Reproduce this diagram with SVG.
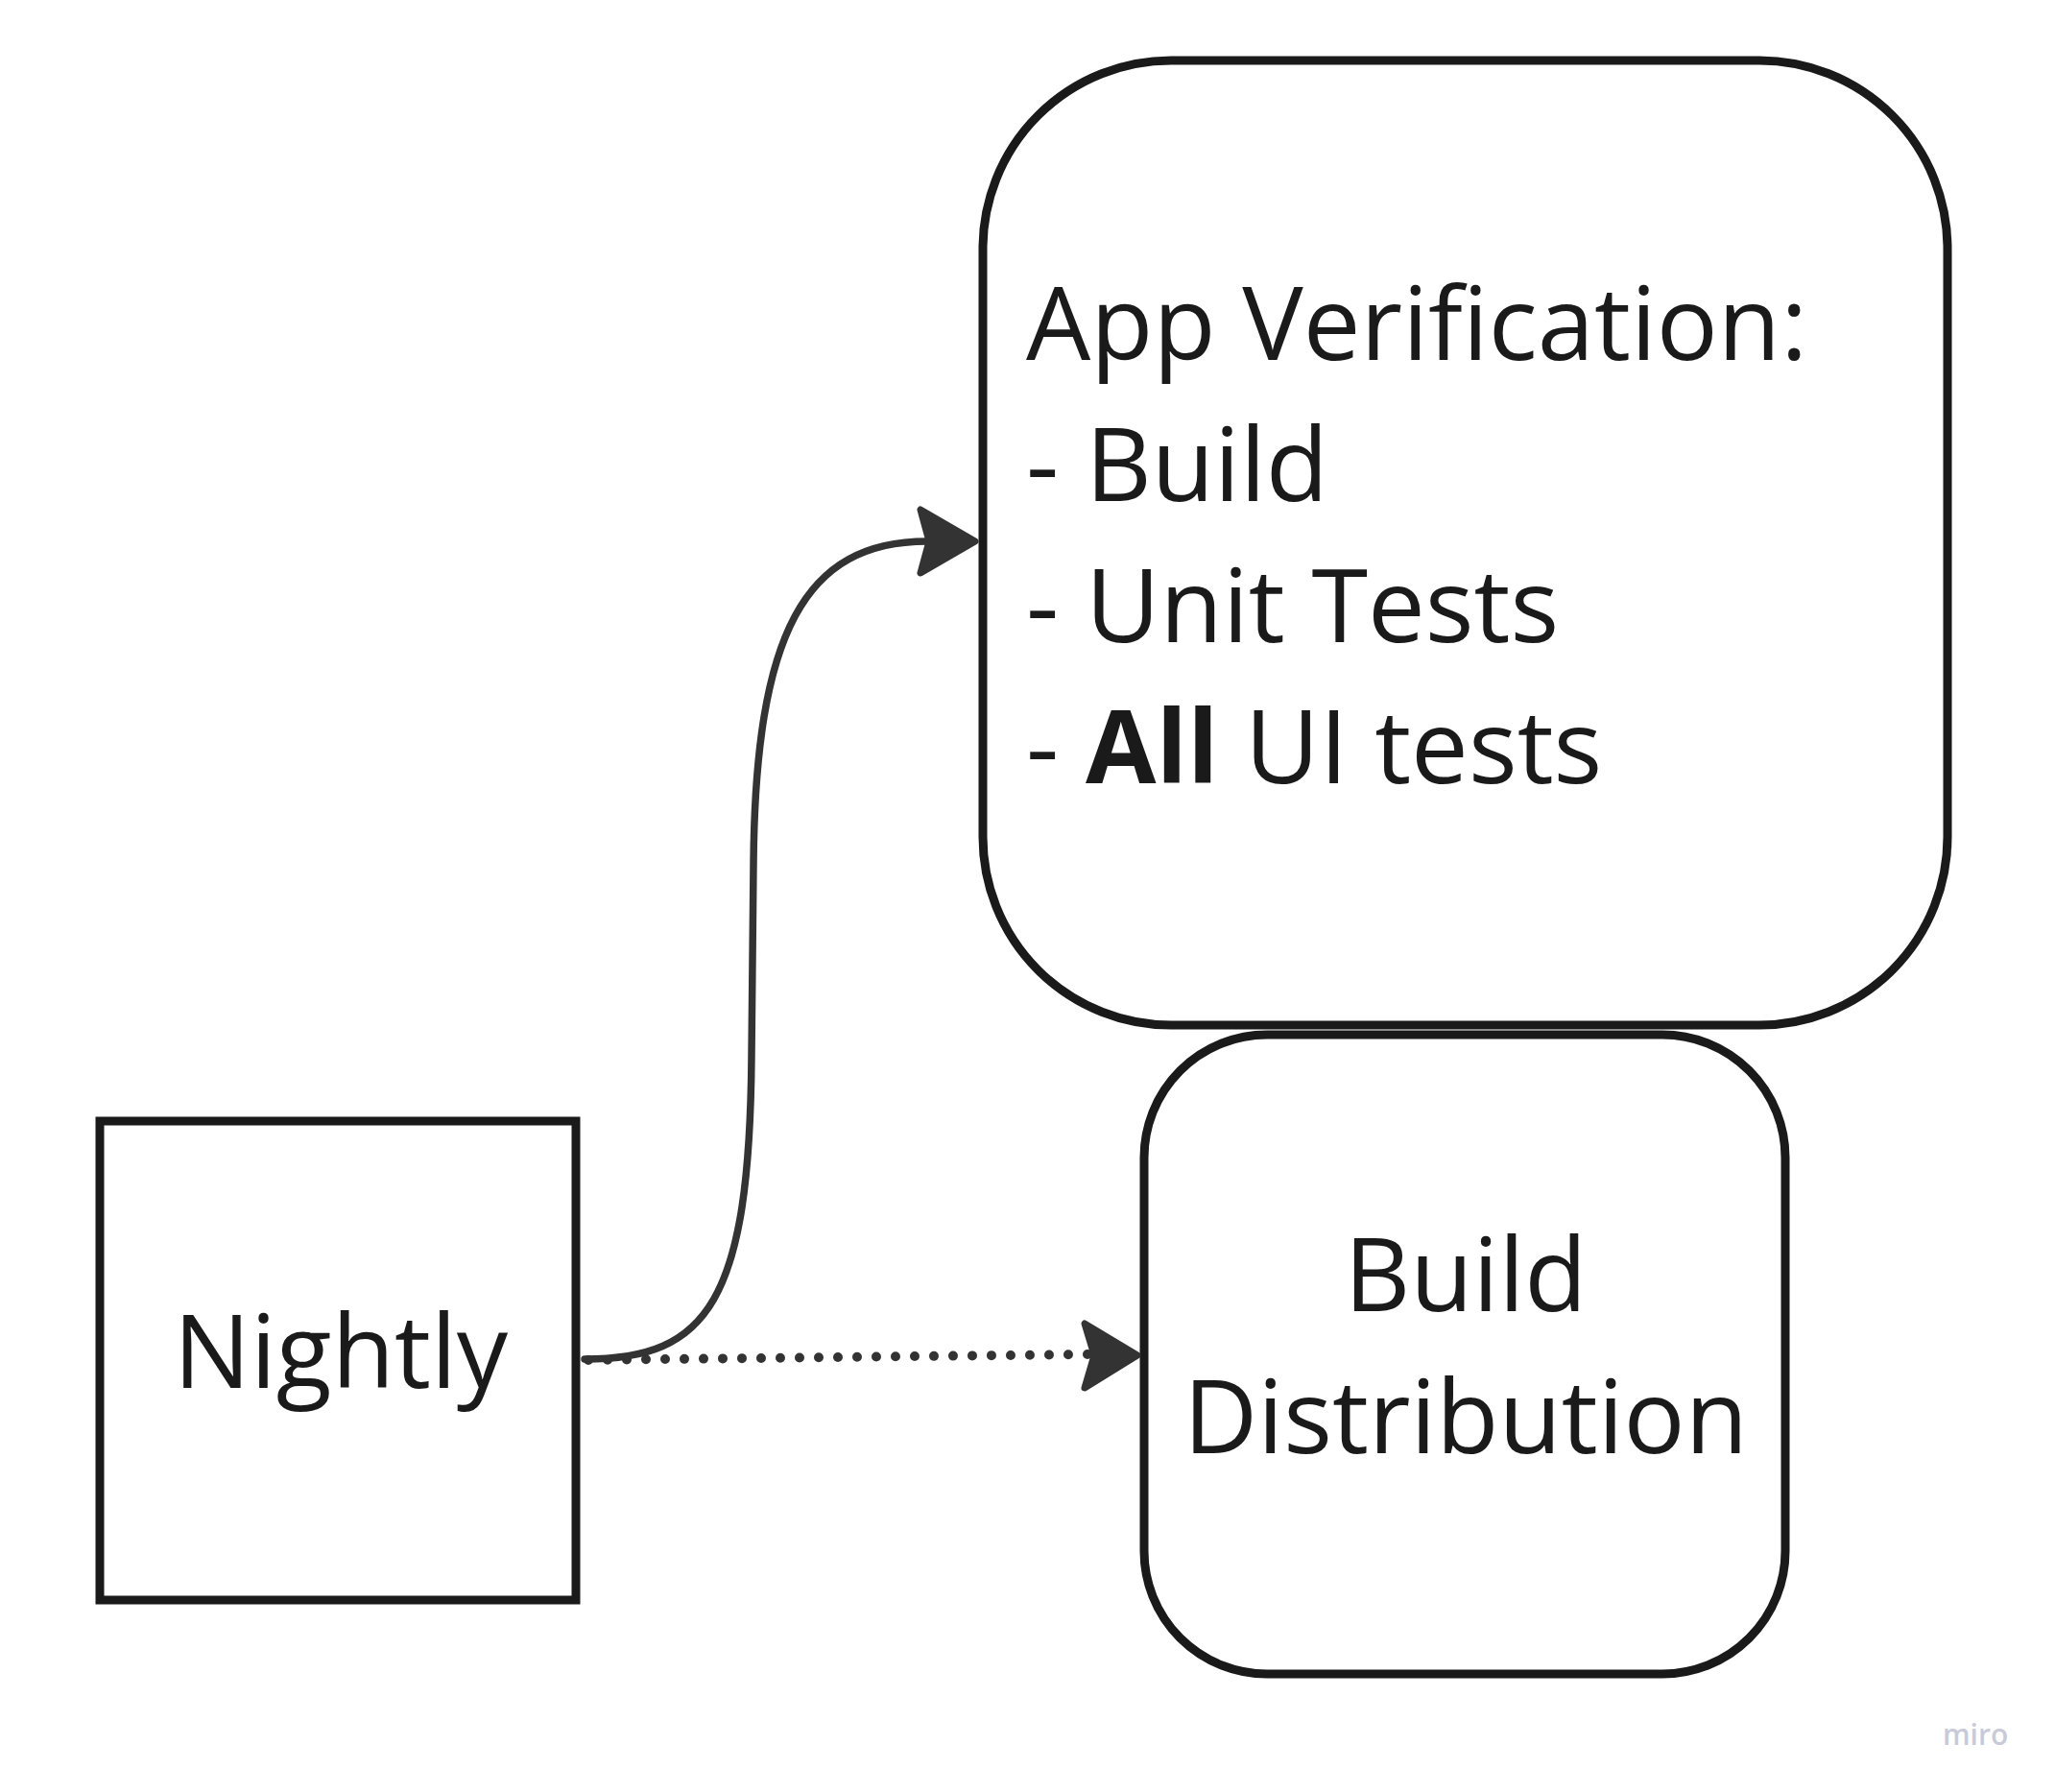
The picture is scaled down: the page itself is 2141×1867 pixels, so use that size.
<svg xmlns="http://www.w3.org/2000/svg" width="2141" height="1867" viewBox="0 0 2141 1867">
<style>
.node{fill:#ffffff;stroke:#1a1a1a;stroke-width:9}
.lbl{font-family:"Open Sans","Noto Sans","Liberation Sans",sans-serif;font-size:106.5px;fill:#1a1a1a}
.conn{fill:none;stroke:#333333;stroke-width:7.5;stroke-linecap:round}
.dots{fill:none;stroke:#333333;stroke-width:10;stroke-linecap:round;stroke-dasharray:0 20}
.head{fill:#333333;stroke:#333333;stroke-width:7;stroke-linejoin:round}
.wm{font-family:"Open Sans","Noto Sans","Liberation Sans",sans-serif;font-size:30px;font-weight:600;fill:#c9cad8}
</style>
<rect width="2141" height="1867" fill="#ffffff"/>
<g id="app-verification">
<rect class="node" x="1024" y="63" width="1005" height="1005" rx="196" ry="196"/>
<text class="lbl" x="1069" y="375">App Verification:</text>
<text class="lbl" x="1069" y="522">- Build</text>
<text class="lbl" x="1069" y="669">- Unit Tests</text>
<text class="lbl" x="1069" y="816">- <tspan font-weight="700">All</tspan> UI tests</text>
</g>
<g id="build-distribution">
<rect class="node" x="1192" y="1078" width="668" height="666" rx="128" ry="128"/>
<text class="lbl" x="1527" y="1366" text-anchor="middle">Build</text>
<text class="lbl" x="1527" y="1514" text-anchor="middle">Distribution</text>
</g>
<g id="nightly">
<rect class="node" x="104" y="1168" width="496" height="499"/>
<text class="lbl" x="355" y="1446" text-anchor="middle" font-size="107">Nightly</text>
</g>
<g id="connectors">
<path class="conn" d="M609 1416 C738 1416 781 1355 783 1100 L785 900 C787 660 838 564 966 564"/>
<polygon class="head" points="1016,564 959,531 968,564 959,597"/>
<path class="dots" d="M613 1417 L1133 1411"/>
<polygon class="head" points="1185,1412 1130,1379 1140,1412 1130,1446"/>
</g>
<text class="wm" x="2024" y="1818">miro</text>
</svg>
